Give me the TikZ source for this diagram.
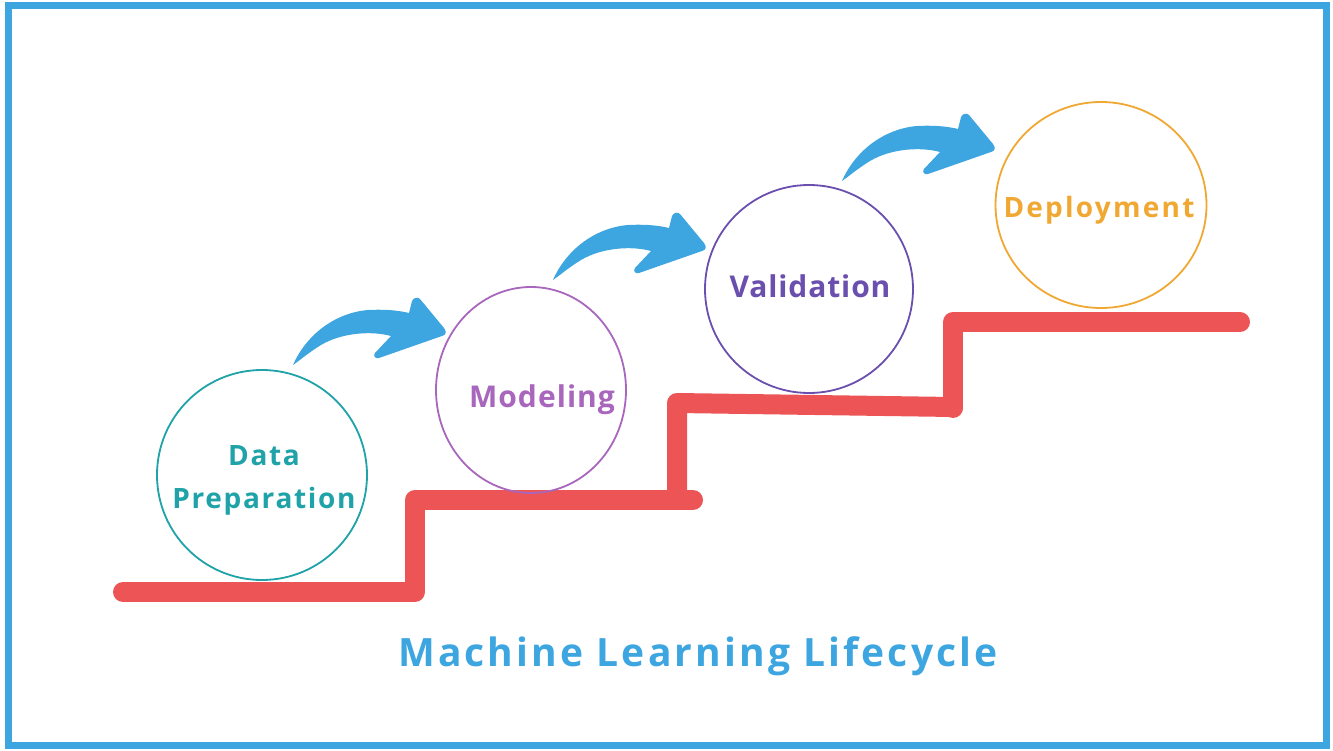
\documentclass[tikz,border=0pt]{standalone}
\usepackage{fontspec}
\setmainfont{Open Sans}
\usetikzlibrary{calc,shapes.geometric}
\definecolor{frameblue}{HTML}{3DA5E0}
\definecolor{stairred}{HTML}{EC5456}
\definecolor{dpc}{HTML}{1FA2A8}
\definecolor{moc}{HTML}{A866BC}
\definecolor{vac}{HTML}{6A4FAE}
\definecolor{dec}{HTML}{F0A833}
\tikzset{
  frame/.style={draw=frameblue, line width=7pt},
  stair/.style={draw=stairred, line width=20pt, line cap=round, line join=round},
  ring/.style={ellipse, line width=1.8pt, inner sep=0pt, fill=none},
  lbl/.style={font=\fontsize{28}{34}\selectfont\bfseries\addfontfeature{LetterSpace=6}, inner sep=0pt, anchor=base},
  bluearrow/.pic={
    \fill[frameblue] (0,0) .. controls (12,-28) and (40,-52) .. (75,-55)
      .. controls (95,-56) and (108,-54) .. (116,-52)
      -- (119,-64) .. controls (121,-68) and (125,-68) .. (127,-66)
      -- (151,-37) .. controls (154,-33) and (153,-30) .. (149,-29)
      -- (86,-7) .. controls (82,-6) and (80,-9) .. (82,-12)
      -- (98,-29) .. controls (80,-34) and (50,-33) .. (28,-20)
      .. controls (15,-12) and (6,-4) .. (0,0) -- cycle;
  }
}
\begin{document}
\begin{tikzpicture}[x=1pt,y=-1pt]
\useasboundingbox (0,0) rectangle (1333,751);
\draw[frame] (8,6) rectangle (1326,745);
% stairs
\draw[stair] (123,592) -- (415,592) -- (415,500) -- (693,500);
\draw[stair] (677,500) -- (677,403) -- (953,407);
\draw[stair] (953,408) -- (953,322) -- (1240,322);
% circles
\node[ring, draw=dpc, minimum width=210pt, minimum height=210pt] (dp) at (262,475) {};
\node[ring, draw=moc, minimum width=190pt, minimum height=206pt] (mo) at (531,390) {};
\node[ring, draw=vac, minimum width=208pt, minimum height=208pt] (va) at (809,289) {};
\node[ring, draw=dec, minimum width=211pt, minimum height=206pt] (de) at (1101,205) {};
% labels
\node[lbl, text=dpc] (dpt1) at ($(dp.center)+(2,-10)$) {Data};
\node[lbl, text=dpc] (dpt2) at ($(dp.center)+(2,33)$) {Preparation};
\node[lbl, text=moc, font=\fontsize{30}{36}\selectfont\bfseries\addfontfeature{LetterSpace=3.5}] (mot) at ($(mo.center)+(11,17)$) {Modeling};
\node[lbl, text=vac, font=\fontsize{30}{36}\selectfont\bfseries\addfontfeature{LetterSpace=3}] (vat) at ($(va.center)+(1,9)$) {Validation};
\node[lbl, text=dec, font=\fontsize{28}{34}\selectfont\bfseries\addfontfeature{LetterSpace=8}] (det) at ($(de.center)+(-2,13)$) {Deployment};
% arrows
\pic at ($(dp.center)+(31,-110)$) {bluearrow};
\pic at ($(mo.center)+(22,-110)$) {bluearrow};
\pic at ($(va.center)+(33,-108)$) {bluearrow};
% title
\node[lbl, text=frameblue, font=\fontsize{39}{47}\selectfont\bfseries\addfontfeature{LetterSpace=8}] (title) at (698,666) {Machine Learning Lifecycle};
\end{tikzpicture}
\end{document}
